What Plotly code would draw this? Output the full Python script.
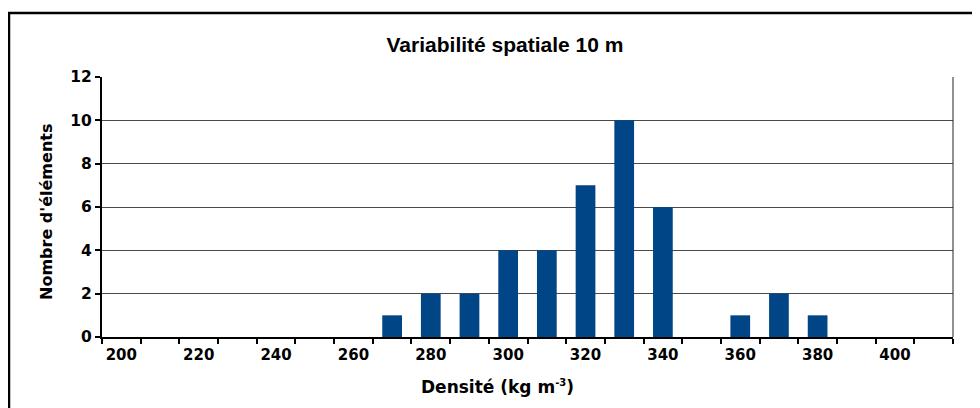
import plotly.graph_objects as go

# density classes (kg m-3) and counts
densite = [200, 210, 220, 230, 240, 250, 260, 270, 280, 290, 300,
           310, 320, 330, 340, 350, 360, 370, 380, 390, 400, 410]
nombre = [0, 0, 0, 0, 0, 0, 0, 1, 2, 2, 4,
          4, 7, 10, 6, 0, 1, 2, 1, 0, 0, 0]
x_labels = [200, 220, 240, 260, 280, 300, 320, 340, 360, 380, 400]
y_ticks = [0, 2, 4, 6, 8, 10, 12]


def build():
    fig = go.Figure()
    fig.add_trace(go.Bar(x=densite, y=nombre, width=5.1,
                         marker=dict(color='#004586', line=dict(width=0))))

    # the page body adds an 8px offset, so margins are shifted by that amount
    dv = dict(family='DejaVu Sans, sans-serif', color='black')
    lib = dict(family='Liberation Sans, Arial, sans-serif', color='black')
    fig.update_layout(
        width=980, height=408,
        margin=dict(l=94, r=35, t=69, b=79),
        paper_bgcolor='white', plot_bgcolor='white',
        showlegend=False,
        font=dict(dv, size=15),
        title=dict(text='<b>Variabilité spatiale 10 m</b>', xref='container', x=497 / 980,
                   xanchor='center', yref='container', y=1 - 37 / 408, yanchor='middle',
                   font=dict(lib, size=21)),
        xaxis=dict(range=[195, 415], tickvals=x_labels, ticktext=[f'<b>{v}</b>' for v in x_labels],
                   ticks='', showgrid=False, zeroline=False, ticklabelstandoff=3,
                   showline=True, linecolor='black', linewidth=2,
                   minor=dict(ticks='outside', ticklen=5, tickwidth=2, tickcolor='black',
                              dtick=10, tick0=195, showgrid=False),
                   tickfont=dict(dv, size=15)),
        yaxis=dict(range=[0, 12], tickvals=y_ticks, ticktext=[f'<b>{v}</b>' for v in y_ticks],
                   ticks='outside', ticklen=5, tickwidth=2, tickcolor='black',
                   showgrid=True, gridcolor='#4a4a4a', gridwidth=1, zeroline=False,
                   showline=True, linecolor='black', linewidth=2,
                   tickfont=dict(dv, size=15.5)),
        annotations=[
            dict(text='<b>Densité (kg m<sup><span style="font-size:10px">-3</span></sup>)</b>',
                 xref='paper', yref='paper',
                 x=(497 - 102) / 851, y=(337 - 387) / 260, xanchor='center', yanchor='middle',
                 showarrow=False, font=dict(dv, size=17)),
            dict(text="<b>Nombre d'éléments</b>", xref='paper', yref='paper',
                 x=(47 - 102) / 851, y=(337 - 212) / 260, xanchor='center', yanchor='middle',
                 textangle=-90, showarrow=False, font=dict(dv, size=16)),
        ],
        shapes=[
            # right border of plot area
            dict(type='line', xref='paper', yref='paper', x0=1, x1=1, y0=0, y1=1,
                 line=dict(color='#222', width=1)),
            # outer chart frame
            dict(type='rect', xref='paper', yref='paper',
                 x0=(9 - 102) / 851, x1=1.2, y0=-1, y1=(337 - 13) / 260,
                 line=dict(color='black', width=2.5)),
        ],
    )
    fig.write_html('out.html')


if __name__ == '__main__':
    build()
